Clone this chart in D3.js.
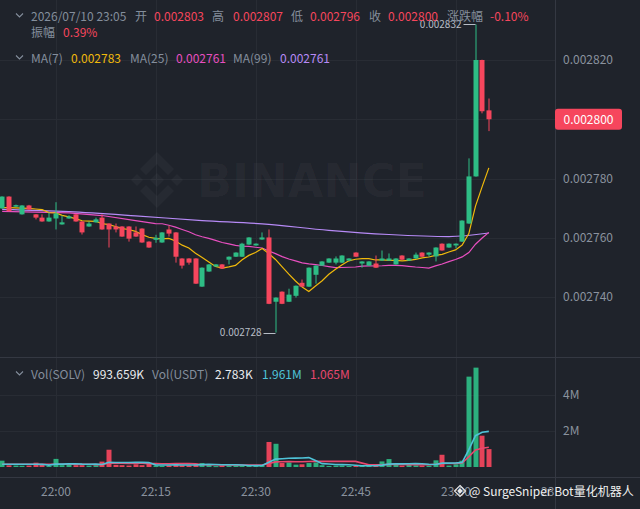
<!DOCTYPE html>
<html><head><meta charset="utf-8">
<script src="https://cdn.jsdelivr.net/npm/d3@7"></script>
<style>
html,body{margin:0;padding:0;background:#1f232b;overflow:hidden}
svg{display:block;font-family:"Noto Sans CJK SC","Noto Sans",sans-serif}
</style></head><body>
<svg id="c" width="640" height="509"></svg>
<script>
// ---- data (prices in units of 1e-6 USDT, volumes in millions SOLV) ----
const startTime = [2026,6,10,21,52];
const opens  = [2769.9,2773.9,2770.6,2767.9,2770.9,2767.9,2766.8,2765.5,2766.5,2764.5,2766.5,2767.9,2765.5,2763.8,2765.2,2766.8,2764.8,2763.8,2763.8,2763.8,2761.8,2763.1,2758.7,2759.3,2758.4,2762.8,2761.8,2753.0,2753.0,2753.0,2743.5,2748.6,2750.3,2751.0,2752.6,2753.6,2753.6,2757.7,2757.4,2759.4,2760.1,2738.4,2741.8,2738.4,2740.4,2744.8,2743.5,2747.5,2750.6,2751.6,2751.6,2751.6,2752.3,2755.0,2751.3,2750.6,2751.3,2752.3,2752.3,2751.0,2754.0,2752.3,2753.0,2755.0,2754.3,2753.7,2758.0,2756.7,2757.4,2758.7,2764.8,2780.7,2820.0,2803.0];
const highs  = [2774.0,2774.0,2771.2,2771.0,2771.1,2768.0,2767.9,2768.5,2772.0,2767.5,2767.6,2768.0,2765.6,2765.5,2766.8,2767.9,2764.9,2764.8,2763.9,2763.9,2763.8,2763.2,2758.8,2761.0,2761.9,2764.1,2761.9,2753.1,2753.1,2753.1,2750.0,2751.1,2751.1,2751.1,2753.7,2755.1,2758.3,2760.2,2758.1,2761.8,2762.8,2739.9,2741.9,2742.8,2743.9,2745.9,2750.0,2750.7,2752.1,2753.1,2753.7,2754.1,2753.1,2755.1,2752.1,2752.1,2754.0,2755.7,2754.7,2753.1,2754.1,2753.1,2755.0,2755.1,2755.1,2756.8,2758.1,2758.1,2758.1,2765.9,2786.8,2832.0,2820.1,2807.0];
const lows   = [2769.8,2768.9,2770.4,2767.8,2769.4,2766.2,2765.4,2765.4,2762.8,2764.4,2766.4,2765.4,2761.1,2763.7,2765.1,2762.7,2756.7,2761.8,2760.3,2758.7,2760.3,2758.3,2756.6,2758.3,2758.3,2760.4,2751.6,2749.6,2750.9,2744.4,2743.4,2748.5,2750.2,2749.5,2751.0,2753.5,2753.5,2757.6,2757.3,2759.3,2737.6,2728.0,2737.6,2738.3,2739.8,2743.4,2743.4,2744.5,2750.5,2751.5,2751.0,2751.5,2752.2,2753.5,2749.9,2750.5,2749.8,2752.2,2752.2,2750.9,2752.5,2752.2,2752.9,2753.5,2753.6,2752.0,2755.6,2756.6,2756.4,2758.6,2764.7,2780.6,2802.0,2796.0];
const closes = [2773.9,2769.0,2771.0,2770.9,2769.5,2766.8,2765.5,2766.8,2768.2,2765.2,2767.2,2765.5,2761.8,2764.8,2766.2,2762.8,2762.8,2762.8,2760.4,2759.7,2760.4,2758.4,2756.7,2760.0,2761.8,2761.4,2753.6,2750.6,2751.6,2744.5,2749.9,2751.0,2751.0,2749.6,2753.6,2755.0,2758.0,2760.1,2758.0,2760.1,2737.7,2739.8,2737.7,2740.8,2743.8,2743.5,2749.9,2750.6,2752.0,2753.0,2753.0,2754.0,2753.0,2753.6,2752.0,2752.0,2749.9,2753.0,2753.0,2753.0,2752.6,2753.0,2754.3,2753.6,2755.0,2756.7,2755.7,2758.0,2758.0,2765.8,2780.7,2820.0,2802.7,2800.0];
const volumes = [0.35,0.09,0.08,0.07,0.08,0.24,0.13,0.06,0.45,0.10,0.17,0.10,0.10,0.08,0.10,0.30,0.96,0.12,0.10,0.08,0.15,0.10,0.20,0.08,0.06,0.09,0.18,0.09,0.09,0.18,0.22,0.16,0.05,0.09,0.08,0.08,0.09,0.06,0.08,0.09,1.39,1.29,0.22,0.25,0.13,0.15,0.22,0.25,0.10,0.06,0.08,0.08,0.06,0.06,0.06,0.08,0.09,0.31,0.44,0.17,0.08,0.12,0.09,0.08,0.08,0.37,0.68,0.08,0.15,0.35,5.02,5.52,1.74,0.994];
// MA readings where the window reaches before the visible data
const ma7Head  = [2770.2,2770.2,2770.1,2770.0,2769.9,2769.7];          // i = 0..5
const ma25HeadIdx = [0,10,15,20,23];
const ma25HeadVal = [2768.9,2768.4,2767.5,2765.8,2764.8];
const ma99Idx = [0,10,20,30,39,49,58,67,73];
const ma99Val = [2769.6,2768.8,2767.4,2765.8,2764.7,2762.5,2761.1,2760.4,2761.6];
const volMaHead = 0.15;
const priceTicks = [2740,2760,2780,2800,2820];
const volTicks = [2,4];
const lastPrice = 2800.0;
const lowMark = {i:41, v:2728.0}, highMark = {i:71, v:2832.0};
const headerLabels = ["2026/07/10 23:05","开","高","低","收","涨跌幅"];
const headerValues = ["0.002803","0.002807","0.002796","0.002800","-0.10%"];
const ampLabel = "振幅", ampValue = "0.39%";
const maLabels = ["MA(7)","MA(25)","MA(99)"], maValues = ["0.002783","0.002761","0.002761"];
const volLabels = ["Vol(SOLV)","Vol(USDT)"], volValues = ["993.659K","2.783K","1.961M","1.065M"];

// ---- colours ----
const UP="#2ebd85", DN="#f6465d", GRAY="#848e9c", GRID="#282c34", SEP="#343842";
const C7="#f0b90b", C25="#e84fc0", C99="#b78af7", VC1="#4fc3d8", VC2="#e8476e";

const svg = d3.select("#c");
const defs = svg.append("defs");
const t0 = new Date(...startTime);
const T = closes.map((_,i)=>d3.timeMinute.offset(t0,i));
const x = d3.scaleTime().domain([new Date(2026,6,10,22,0), new Date(2026,6,10,23,15)]).range([55.5,555.5]);
const y = d3.scaleLinear().domain([2740,2820]).range([297,60]);
const yv = d3.scaleLinear().domain([0,4]).range([467,395]);
const cx = i => x(T[i]);
const crisp = v => Math.round(v)+0.5;

// ---- grid ----
const g = svg.append("g");
const timeTicks = x.ticks(d3.timeMinute.every(15));
g.selectAll(".vg").data(timeTicks.filter(t=>x(t)<550)).join("line")
  .attr("x1",d=>crisp(x(d))).attr("x2",d=>crisp(x(d))).attr("y1",0).attr("y2",477).attr("stroke",GRID);
g.selectAll(".hg").data(priceTicks).join("line")
  .attr("x1",0).attr("x2",555).attr("y1",d=>crisp(y(d))).attr("y2",d=>crisp(y(d))).attr("stroke",GRID);
g.selectAll(".vhg").data(volTicks).join("line")
  .attr("x1",0).attr("x2",555).attr("y1",d=>crisp(yv(d))).attr("y2",d=>crisp(yv(d))).attr("stroke",GRID);
g.append("line").attr("x1",0).attr("x2",640).attr("y1",357.5).attr("y2",357.5).attr("stroke",SEP);
g.append("line").attr("x1",0).attr("x2",640).attr("y1",477.5).attr("y2",477.5).attr("stroke",SEP);
g.append("line").attr("x1",555.5).attr("x2",555.5).attr("y1",0).attr("y2",509).attr("stroke",SEP);

// ---- BINANCE watermark ----
const wm = svg.append("g").attr("fill","rgba(255,255,255,0.035)");
const lg = wm.append("g").attr("transform","translate(157,180)");
const dia = (cx0,cy0,r)=>`M${cx0},${cy0-r}L${cx0+r},${cy0}L${cx0},${cy0+r}L${cx0-r},${cy0}Z`;
lg.append("path").attr("d",dia(0,0,7));
lg.append("path").attr("d",dia(-20,0,6));
lg.append("path").attr("d",dia(20,0,6));
lg.append("path").attr("d","M0,-28L17,-11L11,-5L0,-16L-11,-5L-17,-11Z");
lg.append("path").attr("d","M0,28L17,11L11,5L0,16L-11,5L-17,11Z");
wm.append("text").attr("x",197).attr("y",197).attr("font-family","DejaVu Sans").attr("font-weight","bold")
  .attr("font-size",47).attr("textLength",230).attr("lengthAdjust","spacingAndGlyphs").text("BINANCE");

// ---- MA lines ----
const ma = (arr,n,i)=>d3.mean(arr.slice(i-n+1,i+1));
const ma7 = closes.map((_,i)=> i<6 ? ma7Head[i] : ma(closes,7,i));
const ma25pts = ma25HeadIdx.map((k,j)=>[k,ma25HeadVal[j]]).concat(d3.range(24,closes.length).map(i=>[i,ma(closes,25,i)]));
const ma99pts = ma99Idx.map((k,j)=>[k,ma99Val[j]]);
const line = d3.line().x(d=>cx(d[0])).y(d=>y(d[1]));
svg.append("path").attr("d",line.curve(d3.curveMonotoneX)(ma99pts)).attr("fill","none").attr("stroke",C99).attr("stroke-width",1.2);
svg.append("path").attr("d",line.curve(d3.curveLinear)(ma25pts)).attr("fill","none").attr("stroke",C25).attr("stroke-width",1.2);
svg.append("path").attr("d",line.curve(d3.curveLinear)(ma7.map((v,i)=>[i,v]))).attr("fill","none").attr("stroke",C7).attr("stroke-width",1.2);

// ---- candles ----
const cg = svg.append("g");
const idx = d3.range(closes.length);
const col = i => closes[i]>=opens[i]?UP:DN;
cg.selectAll(".w").data(idx).join("rect")
  .attr("x",i=>Math.round(cx(i))-0.5).attr("width",1)
  .attr("y",i=>y(highs[i])).attr("height",i=>Math.max(1,y(lows[i])-y(highs[i]))).attr("fill",col);
cg.selectAll(".b").data(idx).join("rect")
  .attr("x",i=>Math.round(cx(i))-2.5).attr("width",5)
  .attr("y",i=>y(Math.max(opens[i],closes[i])))
  .attr("height",i=>Math.max(1.5,Math.abs(y(opens[i])-y(closes[i])))).attr("fill",col);

// ---- high / low marks ----
const mk = svg.append("g").attr("font-size",10).attr("fill","#b7bdc6");
[[lowMark,"0.002728"],[highMark,"0.002832"]].forEach(([m,lab])=>{
  const px = cx(m.i), py = y(m.v);
  mk.append("line").attr("x1",px-12).attr("x2",px).attr("y1",crisp(py)).attr("y2",crisp(py)).attr("stroke","#b7bdc6");
  mk.append("text").attr("x",px-14).attr("y",py).attr("dy","0.35em").attr("text-anchor","end").text(lab);
});

// ---- volume ----
const vg = svg.append("g");
vg.selectAll("rect").data(idx).join("rect")
  .attr("x",i=>Math.round(cx(i))-2.5).attr("width",5)
  .attr("y",i=>yv(volumes[i])).attr("height",i=>Math.max(1,yv(0)-yv(volumes[i])))
  .attr("fill",col).attr("opacity",0.92);
const vma7 = volumes.map((_,i)=> i<6 ? volMaHead : ma(volumes,7,i));
const vma14 = volumes.map((_,i)=> i<13 ? volMaHead : ma(volumes,14,i));
const vline = d3.line().x((d,i)=>cx(i)).y(d=>yv(d));
vg.append("path").attr("d",vline(vma14)).attr("fill","none").attr("stroke",VC2).attr("stroke-width",1.6);
vg.append("path").attr("d",vline(vma7)).attr("fill","none").attr("stroke",VC1).attr("stroke-width",1.6);

// ---- axes ----
const styleAxis = a => { a.select(".domain").remove(); a.selectAll("line").remove();
  a.selectAll("text").attr("fill","#8a929e").attr("font-size",12).attr("font-family",'"Noto Sans CJK SC","Noto Sans",sans-serif'); };
const ya = svg.append("g").attr("transform","translate(555,0)")
  .call(d3.axisRight(y).tickValues(priceTicks.filter(v=>v!==lastPrice)).tickSize(0).tickPadding(8).tickFormat(d=>(d/1e6).toFixed(6)));
styleAxis(ya);
const va = svg.append("g").attr("transform","translate(555,0)")
  .call(d3.axisRight(yv).tickValues(volTicks).tickSize(0).tickPadding(8).tickFormat(d=>d+"M"));
styleAxis(va);
defs.append("clipPath").attr("id","xclip").append("rect").attr("x",0).attr("y",478).attr("width",554).attr("height",31);
const xwrap = svg.append("g").attr("clip-path","url(#xclip)");
const xa = xwrap.append("g").attr("transform","translate(0,477)")
  .call(d3.axisBottom(x).ticks(d3.timeMinute.every(15)).tickSize(0).tickPadding(10).tickFormat(d3.timeFormat("%H:%M")));
styleAxis(xa);

// ---- price tag ----
const py0 = y(lastPrice);
svg.append("rect").attr("x",555).attr("y",py0-10.5).attr("width",67).attr("height",21).attr("rx",3).attr("fill",DN);
svg.append("text").attr("x",588.5).attr("y",py0).attr("dy","0.36em").attr("text-anchor","middle")
  .attr("fill","#fff").attr("font-size",12).text((lastPrice/1e6).toFixed(6));

// ---- legends ----
const chev = (yy)=>svg.append("path").attr("d",`M16,${yy-2.5}L19.5,${yy+1}L23,${yy-2.5}`).attr("fill","none").attr("stroke",GRAY).attr("stroke-width",1.1);
const txt = (s,xx,yy,c)=>svg.append("text").attr("x",xx).attr("y",yy).attr("font-size",12).attr("fill",c).text(s);
chev(16);
const hlx=[31,135,212,291,369,447], hvx=[154,233,310,388,490];
headerLabels.forEach((s,i)=>txt(s,hlx[i],21,GRAY));
headerValues.forEach((s,i)=>txt(s,hvx[i],21,DN));
txt(ampLabel,31,37,GRAY); txt(ampValue,63,37,DN);
chev(58);
const mlx=[31,130,233], mvx=[71,176,280], mc=[C7,C25,C99];
maLabels.forEach((s,i)=>txt(s,mlx[i],63,GRAY));
maValues.forEach((s,i)=>txt(s,mvx[i],63,mc[i]));
chev(374);
txt(volLabels[0],31,379,GRAY); txt(volValues[0],93,379,"#eaecef");
txt(volLabels[1],152,379,GRAY); txt(volValues[1],215,379,"#eaecef");
txt(volValues[2],262,379,VC1); txt(volValues[3],310,379,VC2);

// ---- bottom watermark ----
const bw = svg.append("g");
const ic = bw.append("g").attr("transform","translate(460,491)").attr("fill","none").attr("stroke","#e6e6e6").attr("stroke-width",1.2);
ic.append("path").attr("d",dia(0,0,5.5));
ic.append("path").attr("d",dia(0,0,2)).attr("fill","#e6e6e6");
bw.append("text").attr("x",469).attr("y",496).attr("font-size",12).attr("fill","#f0f0f0").text("@ SurgeSniper Bot量化机器人");
</script>
</body></html>
